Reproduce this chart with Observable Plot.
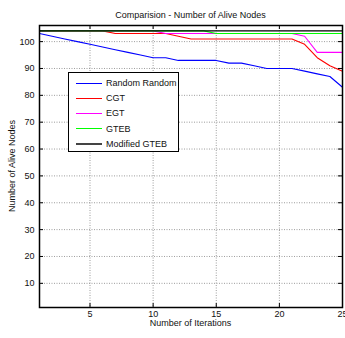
<!DOCTYPE html>
<html><head><meta charset="utf-8">
<script src="https://cdn.jsdelivr.net/npm/d3@7"></script>
<script src="https://cdn.jsdelivr.net/npm/@observablehq/plot@0.6"></script>
<style>
body{margin:0;background:#fff;font-family:"Liberation Sans",Arial,sans-serif;overflow:hidden;}
#wrap{position:relative;width:345px;height:338px;overflow:hidden;background:#fff;}
#chart{position:absolute;left:0;top:20px;}
.lbl{position:absolute;font-size:9px;line-height:10px;color:#111;white-space:nowrap;}
#legend{position:absolute;left:68px;top:72px;width:109px;height:78px;border:1px solid #000;background:#fff;}
.row{position:absolute;left:0;height:12px;font-size:9px;line-height:12px;color:#111;width:109px;}
.sw{position:absolute;left:7px;width:26px;top:5.5px;height:1px;}
.tx{position:absolute;left:37px;top:0;white-space:nowrap;}
</style></head><body>
<div id="wrap">
  <div class="lbl" id="title" style="left:39px;width:303px;text-align:center;top:10px;">Comparision - Number of Alive Nodes</div>
  <div id="chart"></div>
  <div class="lbl" id="xlabel" style="left:39px;width:303px;text-align:center;top:318px;">Number of Iterations</div>
  <div class="lbl" id="ylabel" style="left:12px;top:166px;transform:translate(-50%,-50%) rotate(-90deg);">Number of Alive Nodes</div>
  <div id="legend"></div>
</div>
<script>
const iterations = [1,2,3,4,5,6,7,8,9,10,11,12,13,14,15,16,17,18,19,20,21,22,23,24,25];
const randomRandom = [103,102,101,100,99,98,97,96,95,94,94,93,93,93,93,92,92,91,90,90,90,89,88,87,83];
const cgt = [104,104,104,104,104,104,103,103,103,103,103,102,101,101,101,101,101,101,101,101,101,99,94,91,89];
const egt = [104,104,104,104,104,104,104,104,104,104,103,103,103,103,103,103,103,103,103,103,103,102,96,96,96];
const gteb = [104,104,104,104,104,104,104,104,104,104,104,104,104,104,103,103,103,103,103,103,103,103,103,103,103];
const modifiedGteb = [104,104,104,104,104,104,104,104,104,104,104,104,104,104,104,104,104,104,104,104,104,104,104,104,104];
const seriesNames = ["Random Random","CGT","EGT","GTEB","Modified GTEB"];
const seriesColors = ["#0000ff","#ff0000","#ff00ff","#00ff00","#000000"];
const xTicks = [5,10,15,20,25];
const yTicks = [10,20,30,40,50,60,70,80,90,100];

const seriesValues = [randomRandom,cgt,egt,gteb,modifiedGteb];
const rows = seriesValues.flatMap((vals,k)=>vals.map((v,i)=>({x:iterations[i],y:v,name:seriesNames[k]})));

const W=345,H=318,mT=5,mB=31,mL=39,mR=3;
const innerH=H-mT-mB, innerW=W-mL-mR;
const gridStyle={stroke:"#777",strokeOpacity:0.9,strokeWidth:0.8,strokeDasharray:"1,1.5"};
const chart = Plot.plot({
  width:W,height:H,marginTop:mT,marginBottom:mB,marginLeft:mL,marginRight:mR,
  style:{fontFamily:"Liberation Sans, Arial, sans-serif",fontSize:"9px",background:"white",overflow:"visible",color:"#111"},
  x:{domain:[1,25]},
  y:{domain:[1,106]},
  color:{domain:seriesNames,range:seriesColors},
  marks:[
    Plot.gridX(xTicks,gridStyle),
    Plot.gridY(yTicks,gridStyle),
    Plot.line(rows,{x:"x",y:"y",z:"name",stroke:"name",strokeWidth:1.1}),
    Plot.ruleX(xTicks,{insetTop:innerH-4,stroke:"#000"}),
    Plot.ruleX(xTicks,{insetBottom:innerH-4,stroke:"#000"}),
    Plot.ruleY(yTicks,{insetRight:innerW-4,stroke:"#000"}),
    Plot.ruleY(yTicks,{insetLeft:innerW-4,stroke:"#000"}),
    Plot.axisX(xTicks,{tickSize:0,tickPadding:3,label:null,fontSize:9}),
    Plot.axisY(yTicks,{tickSize:0,tickPadding:5,label:null,fontSize:9}),
    Plot.frame({stroke:"#000",strokeWidth:1.5})
  ]
});
document.getElementById("chart").appendChild(chart);

const legend=document.getElementById("legend");
seriesNames.forEach((n,k)=>{
  const r=document.createElement("div");
  r.className="row";
  r.style.top=(4+k*15.2)+"px";
  const sw=document.createElement("div");
  sw.className="sw";
  sw.style.background=(k===4?"#444":seriesColors[k]);
  if(k===4){sw.style.height="2px";sw.style.top="5px";}
  const t=document.createElement("div");
  t.className="tx";t.textContent=n;
  r.appendChild(sw);r.appendChild(t);legend.appendChild(r);
});
</script>
</body></html>
